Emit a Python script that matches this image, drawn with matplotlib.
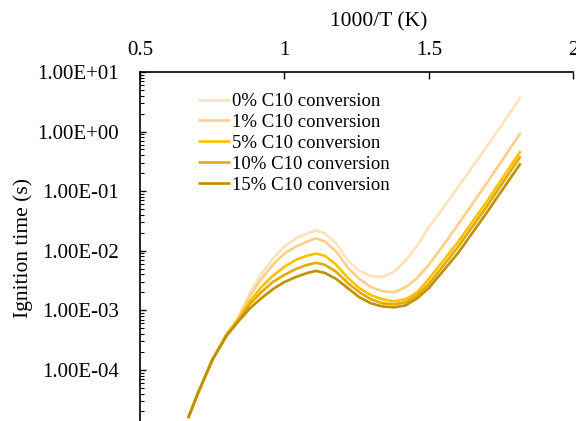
import numpy as np
import matplotlib
matplotlib.use("Agg")
import matplotlib.pyplot as plt
from matplotlib.ticker import FuncFormatter, LogLocator, NullFormatter

plt.rcParams['font.family'] = ['Liberation Serif', 'DejaVu Serif']

# 1000/T values (K^-1 * 1000)
inv_T = [0.667, 0.70, 0.75, 0.80, 0.84, 0.88, 0.92, 0.96, 1.00, 1.04, 1.08, 1.11, 1.14,
         1.18, 1.22, 1.26, 1.30, 1.34, 1.38, 1.42, 1.46, 1.50, 1.55, 1.60, 1.70, 1.818]

# ignition times (s) for each C10 conversion level
tau_0 = [1.55e-5, 3.98e-5, 1.45e-4, 4.03e-4, 7.54e-4, 1.93e-3, 4.07e-3, 7.33e-3, 1.175e-2,
         1.61e-2, 1.95e-2, 2.20e-2, 1.95e-2, 1.32e-2, 6.78e-3, 4.58e-3, 3.77e-3, 3.62e-3,
         4.41e-3, 6.78e-3, 1.22e-2, 2.48e-2, 5.21e-2, 0.114, 0.548, 3.75]
tau_1 = [1.55e-5, 3.98e-5, 1.45e-4, 4.03e-4, 7.25e-4, 1.72e-3, 3.35e-3, 5.80e-3, 8.93e-3,
         1.175e-2, 1.43e-2, 1.61e-2, 1.43e-2, 9.66e-3, 5.15e-3, 3.35e-3, 2.44e-3, 2.09e-3,
         2.01e-3, 2.44e-3, 3.48e-3, 5.80e-3, 1.22e-2, 2.68e-2, 0.134, 0.95]
tau_5 = [1.55e-5, 3.98e-5, 1.45e-4, 3.87e-4, 6.97e-4, 1.41e-3, 2.44e-3, 3.77e-3, 5.36e-3,
         7.05e-3, 8.26e-3, 8.93e-3, 8.26e-3, 5.80e-3, 3.48e-3, 2.35e-3, 1.79e-3, 1.53e-3,
         1.41e-3, 1.53e-3, 2.01e-3, 3.35e-3, 6.78e-3, 1.374e-2, 6.59e-2, 0.469]
tau_10 = [1.55e-5, 3.98e-5, 1.45e-4, 3.87e-4, 6.70e-4, 1.26e-3, 2.01e-3, 2.98e-3, 3.92e-3,
          4.95e-3, 5.80e-3, 6.27e-3, 5.80e-3, 4.41e-3, 2.86e-3, 2.01e-3, 1.53e-3, 1.31e-3,
          1.26e-3, 1.36e-3, 1.79e-3, 2.75e-3, 5.57e-3, 1.13e-2, 5.42e-2, 0.385]
tau_15 = [1.55e-5, 3.98e-5, 1.45e-4, 3.72e-4, 6.44e-4, 1.07e-3, 1.59e-3, 2.26e-3, 2.98e-3,
          3.62e-3, 4.24e-3, 4.58e-3, 4.24e-3, 3.35e-3, 2.35e-3, 1.65e-3, 1.31e-3, 1.16e-3,
          1.12e-3, 1.21e-3, 1.59e-3, 2.35e-3, 4.58e-3, 8.93e-3, 4.29e-2, 0.293]

labels = ["0% C10 conversion", "1% C10 conversion", "5% C10 conversion",
          "10% C10 conversion", "15% C10 conversion"]
colors = ["#FFE2B8", "#FFCF8A", "#FFC000", "#E3AA00", "#BF9000"]
series = [tau_0, tau_1, tau_5, tau_10, tau_15]

fig = plt.figure(figsize=(5.76, 4.21), dpi=100)
ax = fig.add_axes([0.243, -0.020, 0.752, 0.849])

for y, c, lab in zip(series, colors, labels):
    ax.plot(inv_T, y, color=c, lw=1.9, label=lab, solid_capstyle='butt',
            solid_joinstyle='round')

ax.set_yscale('log')
ax.set_xlim(0.5, 2)
ax.set_ylim(1e-5, 1e1)
ax.set_xticks([0.5, 1, 1.5, 2])
ax.set_xticklabels(["0.5", "1", "1.5", "2"])
ax.xaxis.tick_top()

# axis titles placed like the original
fig.text(378.5 / 576, 1 - 22 / 421, "1000/T (K)", fontsize=15.5, ha='center', va='center')
fig.text(23 / 576, 1 - 248.5 / 421, "Ignition time (s)", fontsize=15.5, ha='center',
         va='center', rotation=90)

ax.yaxis.set_major_locator(LogLocator(base=10, numticks=10))
ax.yaxis.set_minor_locator(LogLocator(base=10, subs=np.arange(2, 10), numticks=10))
ax.yaxis.set_major_formatter(FuncFormatter(lambda v, p: f"{v:.2E}"))
ax.yaxis.set_minor_formatter(NullFormatter())

ax.tick_params(axis='y', which='major', direction='in', length=4, width=1, labelsize=15, pad=15)
ax.tick_params(axis='y', which='minor', direction='in', length=3, width=0.8)
ax.tick_params(axis='x', which='major', direction='in', length=5, width=1, labelsize=15, pad=8.5)

ax.spines['right'].set_visible(False)
ax.spines['bottom'].set_visible(False)
ax.spines['left'].set_linewidth(1.2)
ax.spines['top'].set_linewidth(1.2)

ax.legend(loc='upper left', bbox_to_anchor=(198 / 576, 1 - 93 / 421),
          bbox_transform=fig.transFigure, frameon=False, fontsize=13.5,
          handlelength=1.7, handletextpad=0.1, labelspacing=0.2, borderpad=0,
          borderaxespad=0)

fig.savefig("out.png", dpi=100)
